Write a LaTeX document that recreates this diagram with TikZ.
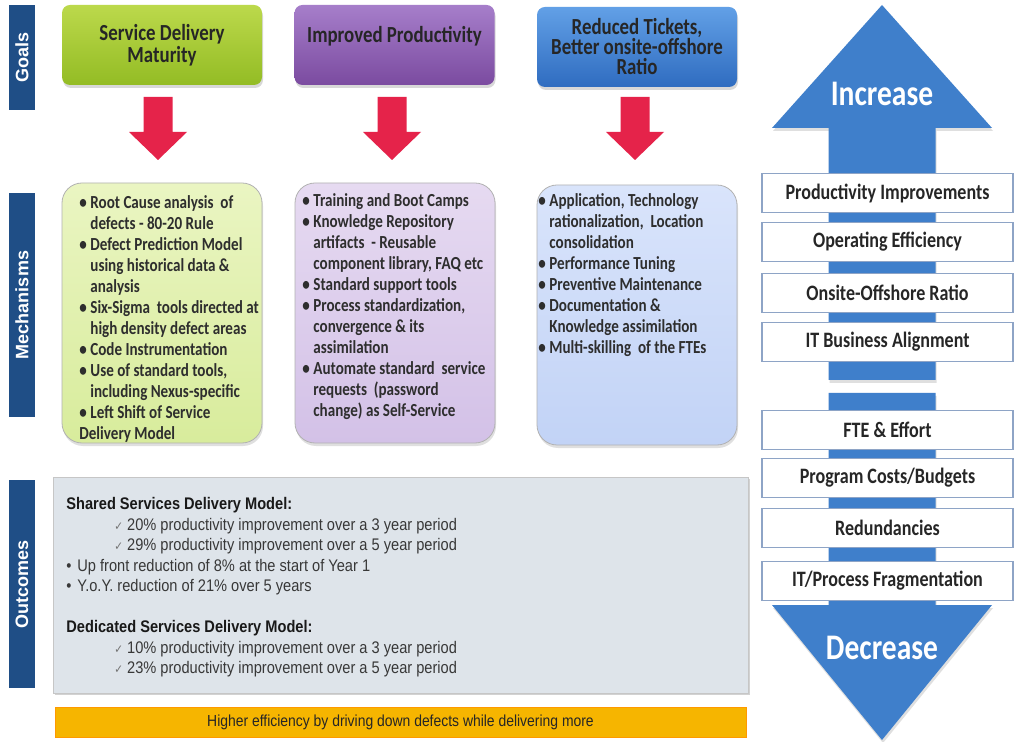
\documentclass[tikz,border=0pt]{standalone}
\usepackage{fontspec}
\setmainfont{Carlito}[FakeStretch=0.82]
\newfontfamily\arialn{Liberation Sans}[FakeStretch=0.87]
\newfontfamily\arialb{Liberation Sans}
\newfontfamily\dejan{DejaVu Sans}[FakeStretch=0.87]
\usetikzlibrary{shadows}
\definecolor{barblue}{HTML}{1F4E86}
\definecolor{arrred}{HTML}{E5234A}
\definecolor{bigblue}{HTML}{3F7FCB}
\definecolor{boxedge}{HTML}{8EA4C6}
\definecolor{ggtop}{HTML}{BCD94C}
\definecolor{ggbot}{HTML}{93BC24}
\definecolor{gptop}{HTML}{A67ECA}
\definecolor{gpbot}{HTML}{7B4BA0}
\definecolor{gbtop}{HTML}{62A0E6}
\definecolor{gbbot}{HTML}{2F6CC0}
\definecolor{mgtop}{HTML}{EAF5C2}
\definecolor{mgbot}{HTML}{D8EC9C}
\definecolor{mptop}{HTML}{E6DAF1}
\definecolor{mpbot}{HTML}{D3C1E7}
\definecolor{mbtop}{HTML}{D9E4FB}
\definecolor{mbbot}{HTML}{C2D3F6}
\definecolor{outfill}{HTML}{DEE4EA}
\definecolor{ybarfill}{HTML}{F6B500}
\newcommand{\bul}{\makebox[5.5pt][l]{\textbullet}}
\newcommand{\mpad}{\hspace*{5.5pt}}
\newcommand{\chk}{{\dejan\fontsize{6}{6}\selectfont\color{black!55}✓}\hspace{2pt}}
\begin{document}
\begin{tikzpicture}[
			x=0.5pt, y=-0.5pt,
			lbar/.style={fill=barblue, text=white, font=\arialb\bfseries\fontsize{9}{9}\selectfont, rotate=90, minimum height=13pt, inner sep=0pt},
			goal/.style={rounded corners=4pt, minimum width=100pt, minimum height=40pt, align=center, text=black!85, font=\bfseries\fontsize{11.5}{11}\selectfont, drop shadow={opacity=0.3, shadow xshift=0.5pt, shadow yshift=-1.5pt}},
			mbox/.style={rounded corners=10pt, minimum width=100pt, minimum height=130pt, draw=black!30, drop shadow={opacity=0.25, shadow xshift=0.5pt, shadow yshift=-1.5pt}},
			mtext/.style={anchor=north west, align=left, inner sep=0pt, text=black!82, font=\bfseries\fontsize{9.2}{10.5}\selectfont},
			otext/.style={anchor=north west, align=left, inner sep=0pt, text=black!78, font=\arialn\fontsize{8.4}{10.25}\selectfont},
			rbox/.style={draw=boxedge, fill=white, line width=0.8pt, minimum width=125.5pt, minimum height=19.5pt, text=black!85, font=\bfseries\fontsize{11}{11}\selectfont},
			bigtext/.style={text=white, font=\bfseries\fontsize{18}{18}\selectfont}
			]
			\useasboundingbox (0,0) rectangle (1021,742);
			\fill[white] (0,0) rectangle (1021,742);
			\node[lbar, minimum width=52.5pt] (lgoals) at (22,57.5) {Goals};
			\node[lbar, minimum width=112pt] (lmech) at (22,305) {Mechanisms};
			\node[lbar, minimum width=104pt] (lout) at (22,584) {Outcomes};
			\node[goal, top color=ggtop, bottom color=ggbot] (ggreen) at (162,45) {Service Delivery\\Maturity};
			\node[goal, top color=gptop, bottom color=gpbot] (gpurple) at (394.5,45) {Improved Productivity\\\mbox{}};
			\node[goal, top color=gbtop, bottom color=gbbot, font=\bfseries\fontsize{11.5}{10}\selectfont] (gblue) at (637,47) {Reduced Tickets,\\Better onsite-offshore\\Ratio};
			\foreach \x in {158,392,635}
				\fill[arrred] (\x-14.5,97) -- (\x+14.5,97) -- (\x+14.5,132) -- (\x+29,132) -- (\x,160) -- (\x-29,132) -- (\x-14.5,132) -- cycle;
			\node[mbox, top color=mgtop, bottom color=mgbot] (mgreen) at (162,313) {};
			\node[mbox, top color=mptop, bottom color=mpbot] (mpurple) at (395,313) {};
			\node[mbox, top color=mbtop, bottom color=mbbot] (mblue) at (637,315) {};
			\node[mtext] (tgreen) at (79,195) {\bul Root Cause analysis~ of\\\mpad defects - 80-20 Rule\\\bul Defect Prediction Model\\\mpad using historical data \&\\\mpad analysis\\\bul Six-Sigma~ tools directed at\\\mpad high density defect areas\\\bul Code Instrumentation\\\bul Use of standard tools,\\\mpad including Nexus-specific\\\bul Left Shift of Service\\Delivery Model};
			\node[mtext] (tpurple) at (302,193) {\bul Training and Boot Camps\\\bul Knowledge Repository\\\mpad artifacts~ - Reusable\\\mpad component library, FAQ etc\\\bul Standard support tools\\\bul Process standardization,\\\mpad convergence \& its\\\mpad assimilation\\\bul Automate standard~ service\\\mpad requests~ (password\\\mpad change) as Self-Service};
			\node[mtext] (tblue) at (538,193) {\bul Application, Technology\\\mpad rationalization,~ Location\\\mpad consolidation\\\bul Performance Tuning\\\bul Preventive Maintenance\\\bul Documentation \&\\\mpad Knowledge assimilation\\\bul Multi-skilling~ of the FTEs};
			\node[fill=outfill, draw=gray!45, minimum width=347.5pt, minimum height=108pt, drop shadow={opacity=0.35, shadow xshift=0.8pt, shadow yshift=-1.2pt}] (obox) at (400.5,585) {};
			\node[otext] (otxt) at (66,497) {{\bfseries\color{black!90}Shared Services Delivery Model:}\\\hspace*{24pt}\chk 20\% productivity improvement over a 3 year period\\\hspace*{24pt}\chk 29\% productivity improvement over a 5 year period\\\bul Up front reduction of 8\% at the start of Year 1\\\bul Y.o.Y. reduction of 21\% over 5 years\\[10.25pt]{\bfseries\color{black!90}Dedicated Services Delivery Model:}\\\hspace*{24pt}\chk 10\% productivity improvement over a 3 year period\\\hspace*{24pt}\chk 23\% productivity improvement over a 5 year period};
			\node[fill=ybarfill, draw=orange!80!yellow, minimum width=345.5pt, minimum height=15pt, text=black!85, font=\arialn\fontsize{8}{8}\selectfont] (ybar) at (400.5,722) {Higher efficiency by driving down defects while delivering more};
			\fill[bigblue, drop shadow={opacity=0.25, shadow xshift=0.5pt, shadow yshift=-1.5pt}] (882,5) -- (992,128) -- (935.5,128) -- (935.5,380) -- (828.5,380) -- (828.5,128) -- (772,128) -- cycle;
			\fill[bigblue, drop shadow={opacity=0.25, shadow xshift=0.5pt, shadow yshift=-1.5pt}] (828.5,393) -- (935.5,393) -- (935.5,605) -- (992,605) -- (882,740) -- (772,605) -- (828.5,605) -- cycle;
			\node[bigtext] (inc) at (882,94) {Increase};
			\node[bigtext] (dec) at (882,648) {Decrease};
			\foreach \y/\t [count=\i] in {193/Productivity Improvements, 242/Operating Efficiency, 293/Onsite-Offshore Ratio, 342/IT Business Alignment, 430/FTE \& Effort, 478/{Program Costs/Budgets}, 528/Redundancies, 581/{IT/Process Fragmentation}}
				\node[rbox] (rb\i) at (887.5,\y) {\t};
		\end{tikzpicture}
\end{document}
